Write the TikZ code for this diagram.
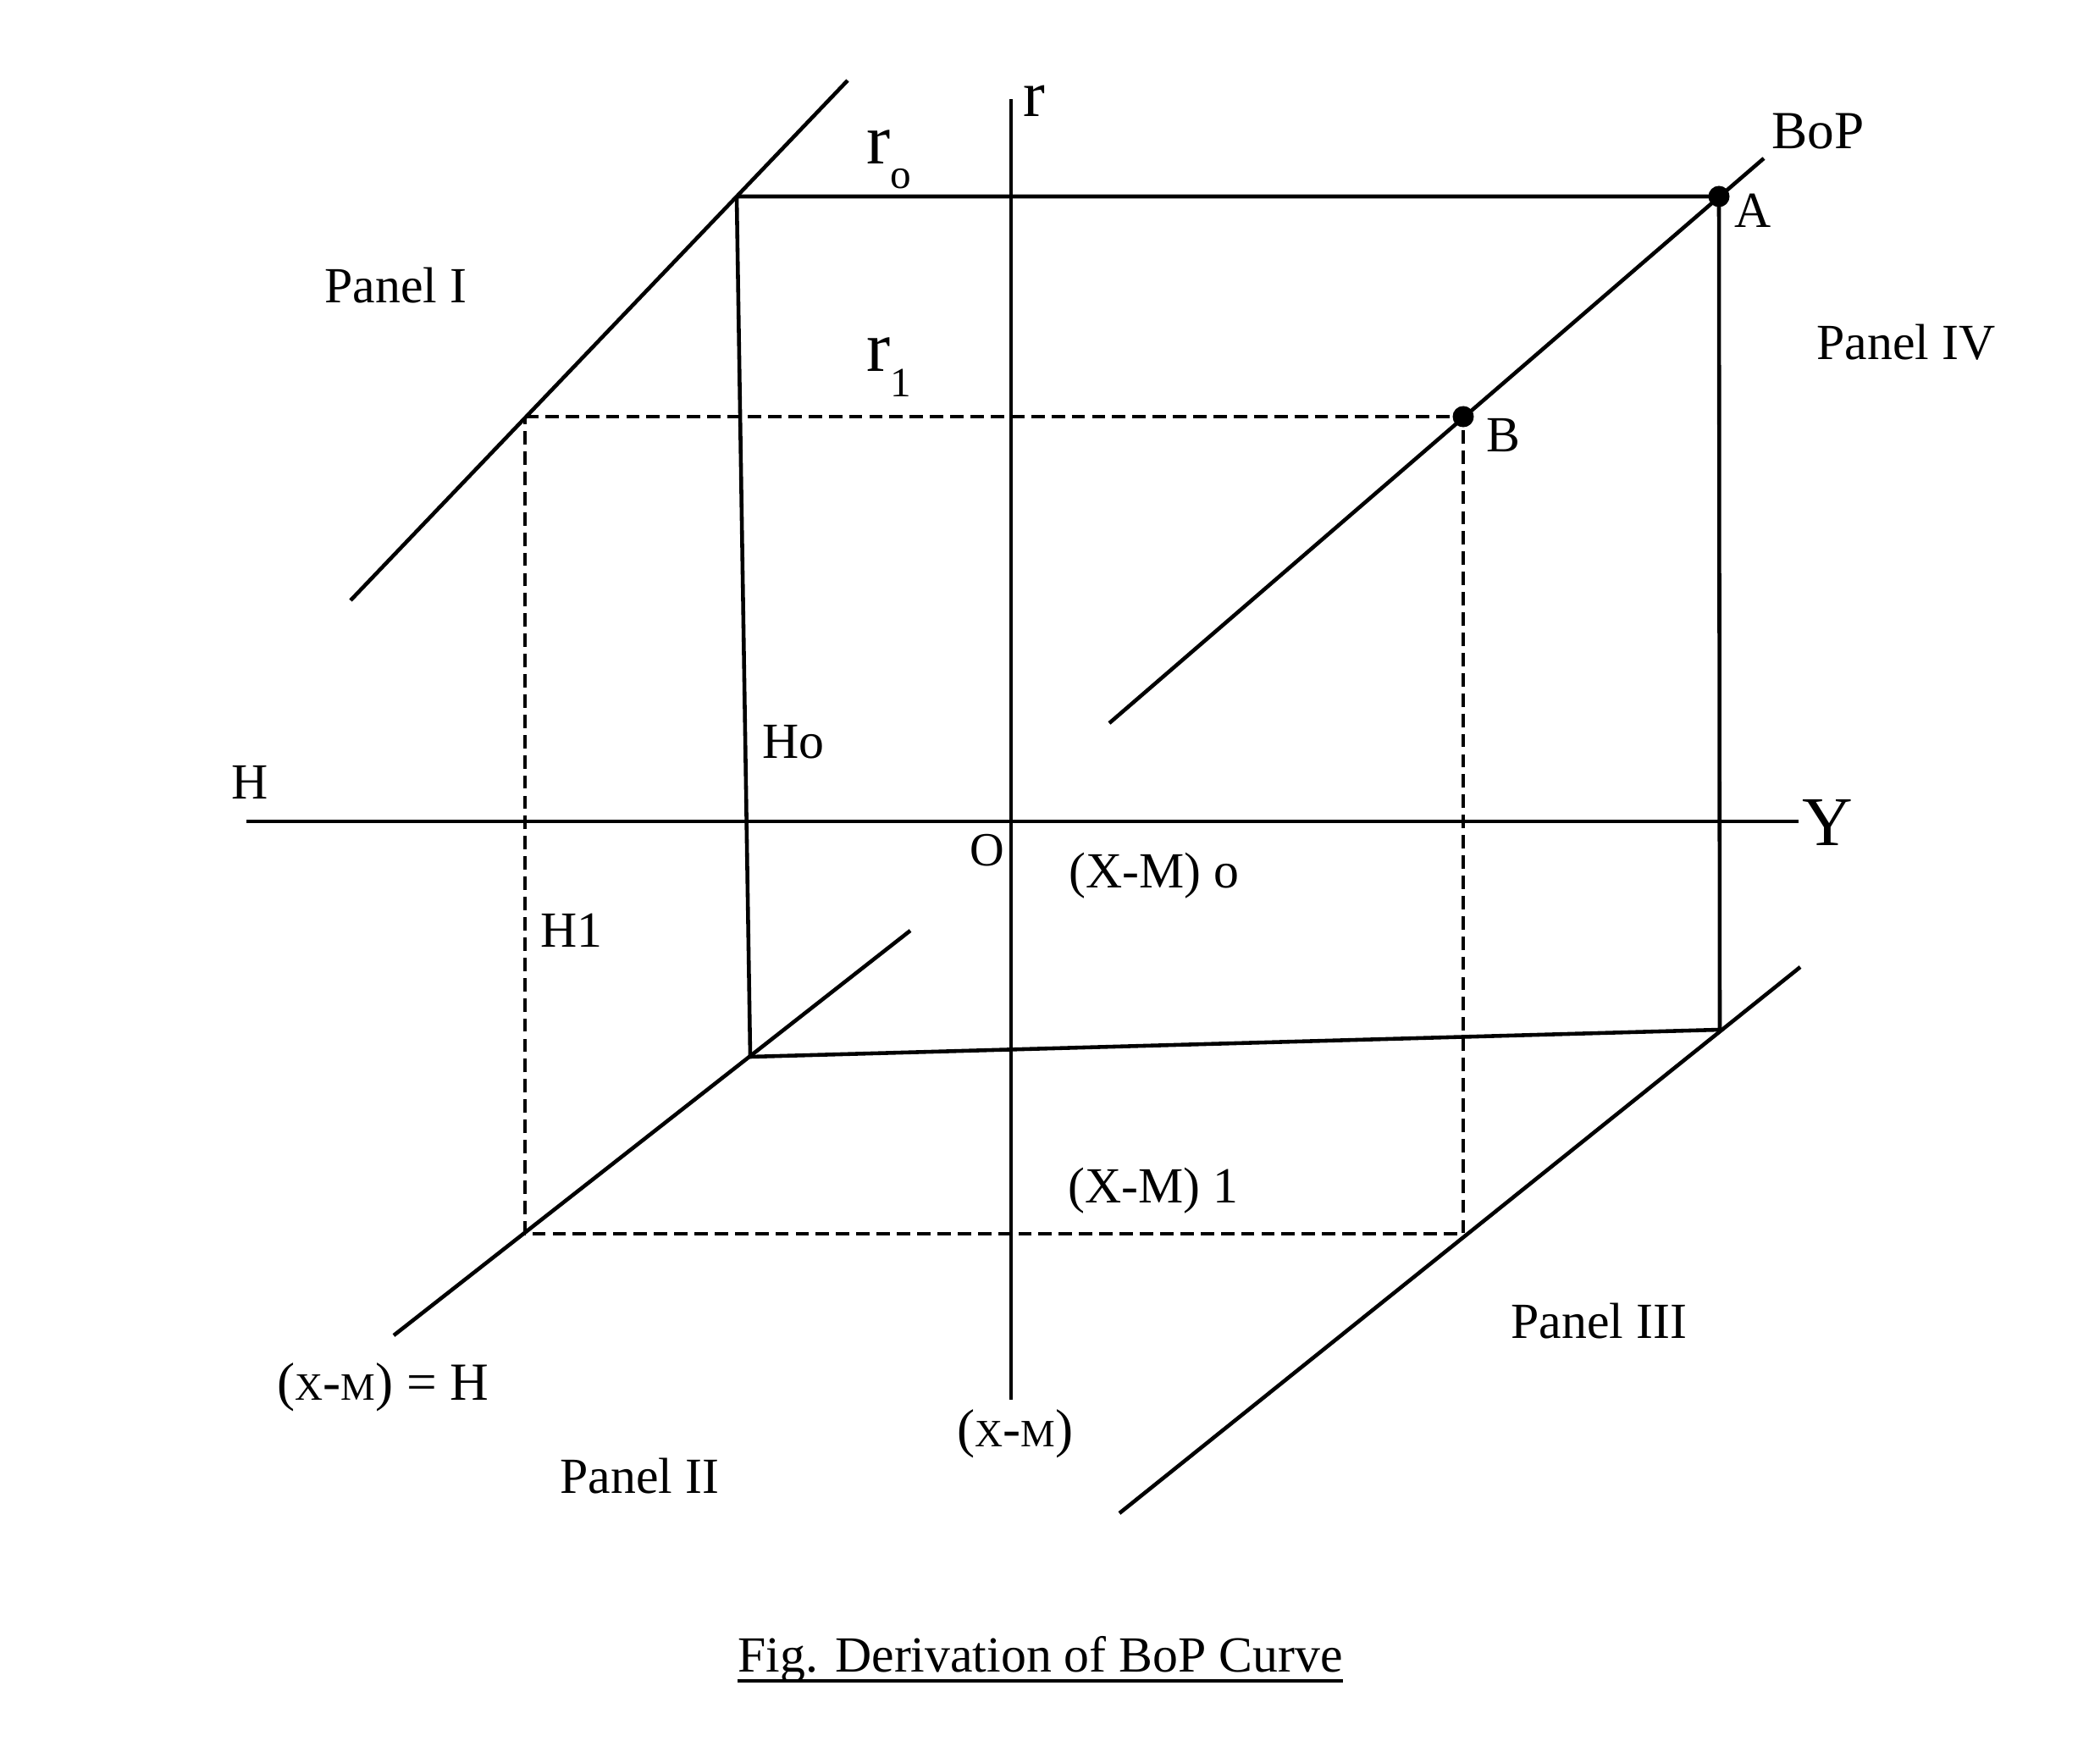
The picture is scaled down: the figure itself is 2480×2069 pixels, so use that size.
\documentclass[tikz,border=0pt]{standalone}
\usepackage{fontspec}
\setmainfont{Liberation Serif}
\begin{document}
\begin{tikzpicture}[x=0.01cm,y=-0.01cm,
  ln/.style={line width=1.3pt},
  dline/.style={line width=1.1pt,dash pattern=on 4.5pt off 2.3pt},
  lab/.style={inner sep=0pt,anchor=base west,font=\fontsize{17}{17}\selectfont},
  dot/.style={circle,fill=black,inner sep=0pt,minimum size=0.25cm}]
\useasboundingbox (0,0) rectangle (2480,2069);
\fill[white] (0,0) rectangle (2480,2069);
% axes
\coordinate (rtop) at (1194,117);
\coordinate (rbot) at (1194,1653);
\coordinate (Hleft) at (291,970);
\coordinate (Yright) at (2124,970);
% panel lines
\coordinate (P1a) at (414,709);
\coordinate (P1b) at (1001,95);
\coordinate (BPa) at (1310,854);
\coordinate (BPb) at (2083,187);
\coordinate (P2a) at (465,1577);
\coordinate (P2b) at (1075,1099);
\coordinate (P3a) at (1322,1787);
\coordinate (P3b) at (2126,1142);
% box corners
\coordinate (C1) at (870,232);
\coordinate (A) at (2030,232);
\coordinate (C4) at (2031,1216);
\coordinate (C3) at (886,1248);
\coordinate (D1) at (620,492);
\coordinate (B) at (1728,492);
\coordinate (D4) at (1728,1457);
\coordinate (D3) at (620,1457);

\draw[ln] (rtop) -- (rbot);
\draw[ln] (Hleft) -- (Yright);
\draw[ln] (P1a) -- (P1b);
\draw[ln] (BPa) -- (BPb);
\draw[ln] (P2a) -- (P2b);
\draw[ln] (P3a) -- (P3b);
\draw[ln] (C1) -- (A) -- (C4) -- (C3) -- (C1);
\draw[dline] (D1) -- (B) -- (D4) -- (D3) -- cycle;
\node[dot] (dotA) at (A) {};
\node[dot] (dotB) at (B) {};

% labels
\node[lab,font=\fontsize{22}{22}\selectfont] (rlab) at (1208,137) {r};
\node[lab,font=\fontsize{24}{24}\selectfont] (r0) at (1023,193) {r\raisebox{-8.3pt}{\fontsize{14}{14}\selectfont o}};
\node[lab,font=\fontsize{24}{24}\selectfont] (r1) at (1023,438) {r\raisebox{-8.8pt}{\fontsize{14}{14}\selectfont 1}};
\node[lab,font=\fontsize{18}{18}\selectfont] (bop) at (2092,175) {BoP};
\node[lab] (Alab) at (2048,268) {A};
\node[lab] (Blab) at (1755,533) {B};
\node[lab] (p1) at (383,357) {Panel I};
\node[lab] (p4) at (2145,424) {Panel IV};
\node[lab] (Ho) at (900,895) {Ho};
\node[lab] (Hlab) at (273,943) {H};
\node[lab,font=\fontsize{23.5}{23.5}\selectfont] (Ylab) at (2128,998) {Y};
\node[lab,font=\fontsize{16}{16}\selectfont] (Olab) at (1145,1022) {O};
\node[lab] (xm0) at (1262,1048) {(X-M) o};
\node[lab] (H1) at (638,1118) {H1};
\node[lab] (xm1) at (1261,1420) {(X-M) 1};
\node[lab] (p3) at (1784,1580) {Panel III};
\node[lab,font=\fontsize{18}{18}\selectfont] (xmH) at (327,1653) {({\fontsize{13}{13}\selectfont X}-{\fontsize{13}{13}\selectfont M}) = H};
\node[lab,font=\fontsize{18}{18}\selectfont] (xm) at (1130,1708) {({\fontsize{13}{13}\selectfont X}-{\fontsize{13}{13}\selectfont M})};
\node[lab] (p2) at (661,1763) {Panel II};
\node[lab,font=\fontsize{17}{17}\selectfont] (cap) at (871,1974) {Fig. Derivation of BoP Curve};
\draw[line width=1.1pt] ([yshift=-3.2pt]cap.base west) -- ([yshift=-3.2pt]cap.base east);
\end{tikzpicture}
\end{document}
